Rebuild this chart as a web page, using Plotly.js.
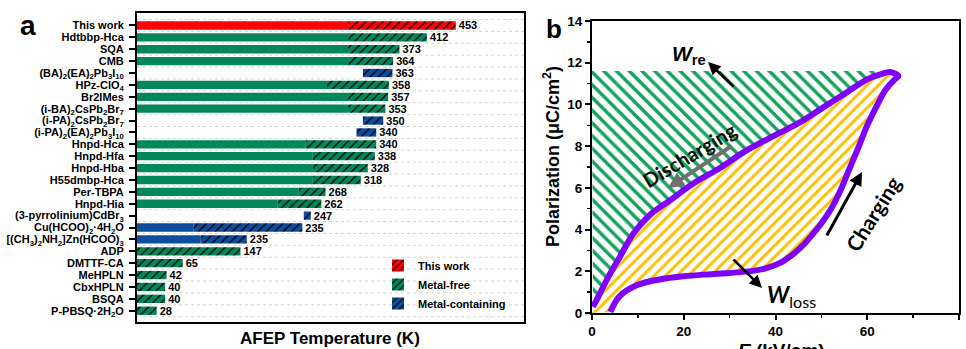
<!DOCTYPE html>
<html><head><meta charset="utf-8">
<script src="https://cdn.plot.ly/plotly-3.0.1.min.js"></script>
<style>html,body{margin:0;padding:0;background:#fff}#chart{width:966px;height:349px}</style>
</head><body><div id="chart"></div>
<script>
// ---------- Panel a data ----------
const categories = [
  "This work","Hdtbbp-Hca","SQA","CMB",
  "(BA)<sub>2</sub>(EA)<sub>2</sub>Pb<sub>3</sub>I<sub>10</sub>",
  "HPz-ClO<sub>4</sub>","Br2IMes",
  "(i-BA)<sub>2</sub>CsPb<sub>2</sub>Br<sub>7</sub>",
  "(i-PA)<sub>2</sub>CsPb<sub>2</sub>Br<sub>7</sub>",
  "(i-PA)<sub>2</sub>(EA)<sub>2</sub>Pb<sub>3</sub>I<sub>10</sub>",
  "Hnpd-Hca","Hnpd-Hfa","Hnpd-Hba","H55dmbp-Hca","Per-TBPA","Hnpd-Hia",
  "(3-pyrrolinium)CdBr<sub>3</sub>",
  "Cu(HCOO)<sub>2</sub>·4H<sub>2</sub>O",
  "[(CH<sub>3</sub>)<sub>2</sub>NH<sub>2</sub>]Zn(HCOO)<sub>3</sub>",
  "ADP","DMTTF-CA","MeHPLN","CbxHPLN","BSQA","P-PBSQ·2H<sub>2</sub>O"
];
const groups = ["This work","Metal-free","Metal-containing"];
const groupOf = [
  "This work","Metal-free","Metal-free","Metal-free","Metal-containing",
  "Metal-free","Metal-free","Metal-free","Metal-containing","Metal-containing",
  "Metal-free","Metal-free","Metal-free","Metal-free","Metal-free","Metal-free",
  "Metal-containing","Metal-containing","Metal-containing",
  "Metal-free","Metal-free","Metal-free","Metal-free","Metal-free","Metal-free"
];
const solidLen   = [300,300,300,300,0,270,300,300,0,0,240,250,250,250,230,200,0,80,90,0,0,0,0,0,0];
const hatchStart = [300,300,300,300,321,270,300,300,321,312,240,250,250,250,230,200,237,80,90,0,0,0,0,0,0];
const barEnd     = [453,412,373,364,363,358,357,353,350,340,340,338,328,318,268,262,247,235,156,147,65,42,40,40,28];
const valueLabels= ["453","412","373","364","363","358","357","353","350","340","340","338","328","318","268","262","247","235","235","147","65","42","40","40","28"];
const groupColors = {"This work":"#FF0000","Metal-free":"#00875A","Metal-containing":"#0E4C9C"};

// ---------- Panel b data ----------
const chargeE = [4.0,6.0,10,15,20,25,30,35,38,41,44,46,48,50,52,54,56,58,60,62,64,66,66.8];
const chargeP = [0.05,0.8,1.35,1.62,1.76,1.85,1.92,2.02,2.15,2.4,2.85,3.25,3.75,4.3,4.95,5.8,6.85,7.9,9.0,9.9,10.7,11.2,11.35];
const dischargeE = [66.8,65,63,60,55,50,45,38.8,33,27.9,22,17,12.6,9.0,6.1,3.2,1.0,0.2];
const dischargeP = [11.35,11.55,11.45,11.2,10.5,9.8,9.1,8.4,7.7,6.95,6.2,5.4,4.7,3.8,2.7,1.58,0.62,0.3];
const wreLevel = 11.6, wreEndE = 65.6;

const FONT = "Liberation Sans, Arial, sans-serif";
const W = 966, H = 349;
const px = v => v / W, py = v => 1 - v / H;

const traces = [];
groups.forEach(g => {
  const idx = categories.map((c,i)=>i).filter(i => groupOf[i] === g);
  const col = groupColors[g];
  traces.push({
    type:"bar", orientation:"h", xaxis:"x", yaxis:"y",
    y: idx.map(i=>categories[i]), x: idx.map(i=>solidLen[i]), base: idx.map(()=>0),
    width: 0.7, marker:{color:col, line:{width:0}},
    showlegend:false, hoverinfo:"skip", legendgroup:g
  });
  traces.push({
    type:"bar", orientation:"h", xaxis:"x", yaxis:"y", name:g, legendgroup:g,
    y: idx.map(i=>categories[i]), x: idx.map(i=>barEnd[i]-hatchStart[i]), base: idx.map(i=>hatchStart[i]),
    width: 0.7,
    marker:{color:col, line:{width:0}, pattern:{shape:"/", fgcolor:"#000", bgcolor:col, size:6, solidity:0.22, fillmode:"replace"}},
    text: idx.map(i=>valueLabels[i]), textposition:"outside", constraintext:"none", cliponaxis:false,
    textfont:{family:FONT, size:11, color:"#000", weight:"bold"}, hoverinfo:"skip"
  });
});

// green region (W_re)
traces.push({
  type:"scatter", mode:"lines", xaxis:"x2", yaxis:"y2", showlegend:false, hoverinfo:"skip",
  x:[0, wreEndE].concat(dischargeE), y:[wreLevel, wreLevel].concat(dischargeP),
  fill:"toself", line:{width:0, color:"rgba(0,0,0,0)"}, fillcolor:"rgba(0,0,0,0)",
  fillpattern:{shape:"\\", fgcolor:"#14A35A", bgcolor:"#FFFFFF", size:9, solidity:0.38}
});
// yellow region (W_loss)
traces.push({
  type:"scatter", mode:"lines", xaxis:"x2", yaxis:"y2", showlegend:false, hoverinfo:"skip",
  x: chargeE.concat(dischargeE.slice(1), [0]), y: chargeP.concat(dischargeP.slice(1), [0]),
  fill:"toself", line:{width:0, color:"rgba(0,0,0,0)"}, fillcolor:"rgba(0,0,0,0)",
  fillpattern:{shape:"/", fgcolor:"#FFC000", bgcolor:"#FFFFFF", size:8, solidity:0.36}
});
// P-E loop
traces.push({
  type:"scatter", mode:"lines", xaxis:"x2", yaxis:"y2", showlegend:false, hoverinfo:"skip",
  x: chargeE.concat(dischargeE.slice(1)), y: chargeP.concat(dischargeP.slice(1)),
  line:{color:"#8000FF", width:6, shape:"spline", smoothing:1}
});

const shapes = [];
for (let i = 0; i <= categories.length; i++) {
  shapes.push({type:"line", xref:"x", yref:"y", x0:0, x1:550, y0:i-0.5, y1:i-0.5,
    line:{color:"#D4D4D4", width:1, dash:"dot"}, layer:"below"});
}

const ann = [];
const A = (o) => ann.push(Object.assign({xref:"paper", yref:"paper", showarrow:false, xanchor:"center", yanchor:"middle"}, o));
A({x:px(28), y:py(26), text:"a", font:{family:FONT, size:28, weight:"bold", color:"#000"}});
A({x:px(554), y:py(29), text:"b", font:{family:FONT, size:26, weight:"bold", color:"#000"}});
A({x:px(330), y:py(338), text:"AFEP Temperature (K)", font:{family:FONT, size:17, weight:"bold", color:"#000"}});
A({x:px(551), y:py(157), text:"Polarization (μC/cm<sup>2</sup>)", textangle:-90, font:{family:FONT, size:18, weight:"bold", color:"#000"}});
A({x:px(781), y:py(350), text:"<i>E</i> (kV/cm)", font:{family:FONT, size:19, weight:"bold", color:"#000"}});
A({x:px(689), y:py(55), text:"<i>W</i><sub>re</sub>", font:{family:FONT, size:21, weight:"bold", color:"#000"}});
A({x:px(708), y:py(62), text:"", showarrow:true, ax:27, ay:26, arrowhead:2, arrowsize:1, arrowwidth:2.5, arrowcolor:"#000", standoff:0});
A({x:px(689), y:py(155), text:"Discharging", textangle:-31, font:{family:"Lato, "+FONT, size:20, weight:"bold", color:"#111"}});
A({x:px(668), y:py(188), text:"", showarrow:true, ax:65, ay:-43, arrowhead:2, arrowsize:0.8, arrowwidth:4, arrowcolor:"#707070", standoff:0});
A({x:px(872), y:py(214), text:"Charging", textangle:-58, font:{family:"Lato, "+FONT, size:21, weight:"bold", color:"#000"}});
A({x:px(862), y:py(172), text:"", showarrow:true, ax:-36, ay:65, arrowhead:2, arrowsize:0.9, arrowwidth:3, arrowcolor:"#000", standoff:0});
A({x:px(791), y:py(295), text:"<b><i>W</i></b><sub>loss</sub>", font:{family:"Lato, "+FONT, size:23, color:"#000"}});
A({x:px(762), y:py(288), text:"", showarrow:true, ax:-30, ay:-30, arrowhead:2, arrowsize:1, arrowwidth:2.5, arrowcolor:"#000", standoff:0});

const layout = {
  width:W, height:H, margin:{l:0,r:0,t:0,b:0}, paper_bgcolor:"#fff", plot_bgcolor:"#fff",
  barmode:"overlay", showlegend:true,
  legend:{x:px(378), y:py(251), xanchor:"left", yanchor:"top", bgcolor:"rgba(0,0,0,0)",
    font:{family:FONT, size:11, weight:"bold", color:"#000"}, itemwidth:30, tracegroupgap:0},
  xaxis:{domain:[px(137), px(524)], anchor:"y", range:[0,550], showticklabels:false, ticks:"",
    showline:true, linewidth:2, linecolor:"#000", mirror:true, showgrid:false, zeroline:false, fixedrange:true},
  yaxis:{domain:[py(322), py(13)], anchor:"x", type:"category", categoryorder:"array", categoryarray:categories,
    tickmode:"array", tickvals:categories, ticktext:categories,
    range:[24.95,-1.05], ticks:"outside", ticklen:6, tickwidth:2, tickcolor:"#000", ticklabelstandoff:3,
    showline:true, linewidth:2, linecolor:"#000", mirror:true, showgrid:false, zeroline:false,
    tickfont:{family:FONT, size:11, weight:"bold", color:"#000"}, fixedrange:true},
  xaxis2:{domain:[px(592), px(959)], anchor:"y2", range:[0,80], dtick:20, tick0:0, ticks:"outside", ticklen:5, tickwidth:2,
    tickcolor:"#000", minor:{dtick:10, ticks:"outside", ticklen:3, tickwidth:1.5, tickcolor:"#000"},
    showline:true, linewidth:2, linecolor:"#000", mirror:true, showgrid:false, zeroline:false,
    tickfont:{family:FONT, size:13.5, weight:"bold", color:"#000"}, fixedrange:true},
  yaxis2:{domain:[py(313), py(21)], anchor:"x2", range:[0,14], dtick:2, tick0:0, ticks:"outside", ticklen:5, tickwidth:2,
    tickcolor:"#000", minor:{dtick:1, ticks:"outside", ticklen:3, tickwidth:1.5, tickcolor:"#000"},
    showline:true, linewidth:2, linecolor:"#000", mirror:true, showgrid:false, zeroline:false,
    tickfont:{family:FONT, size:13.5, weight:"bold", color:"#000"}, fixedrange:true},
  shapes:shapes, annotations:ann
};
Plotly.newPlot("chart", traces, layout, {staticPlot:true, displayModeBar:false});
</script></body></html>
